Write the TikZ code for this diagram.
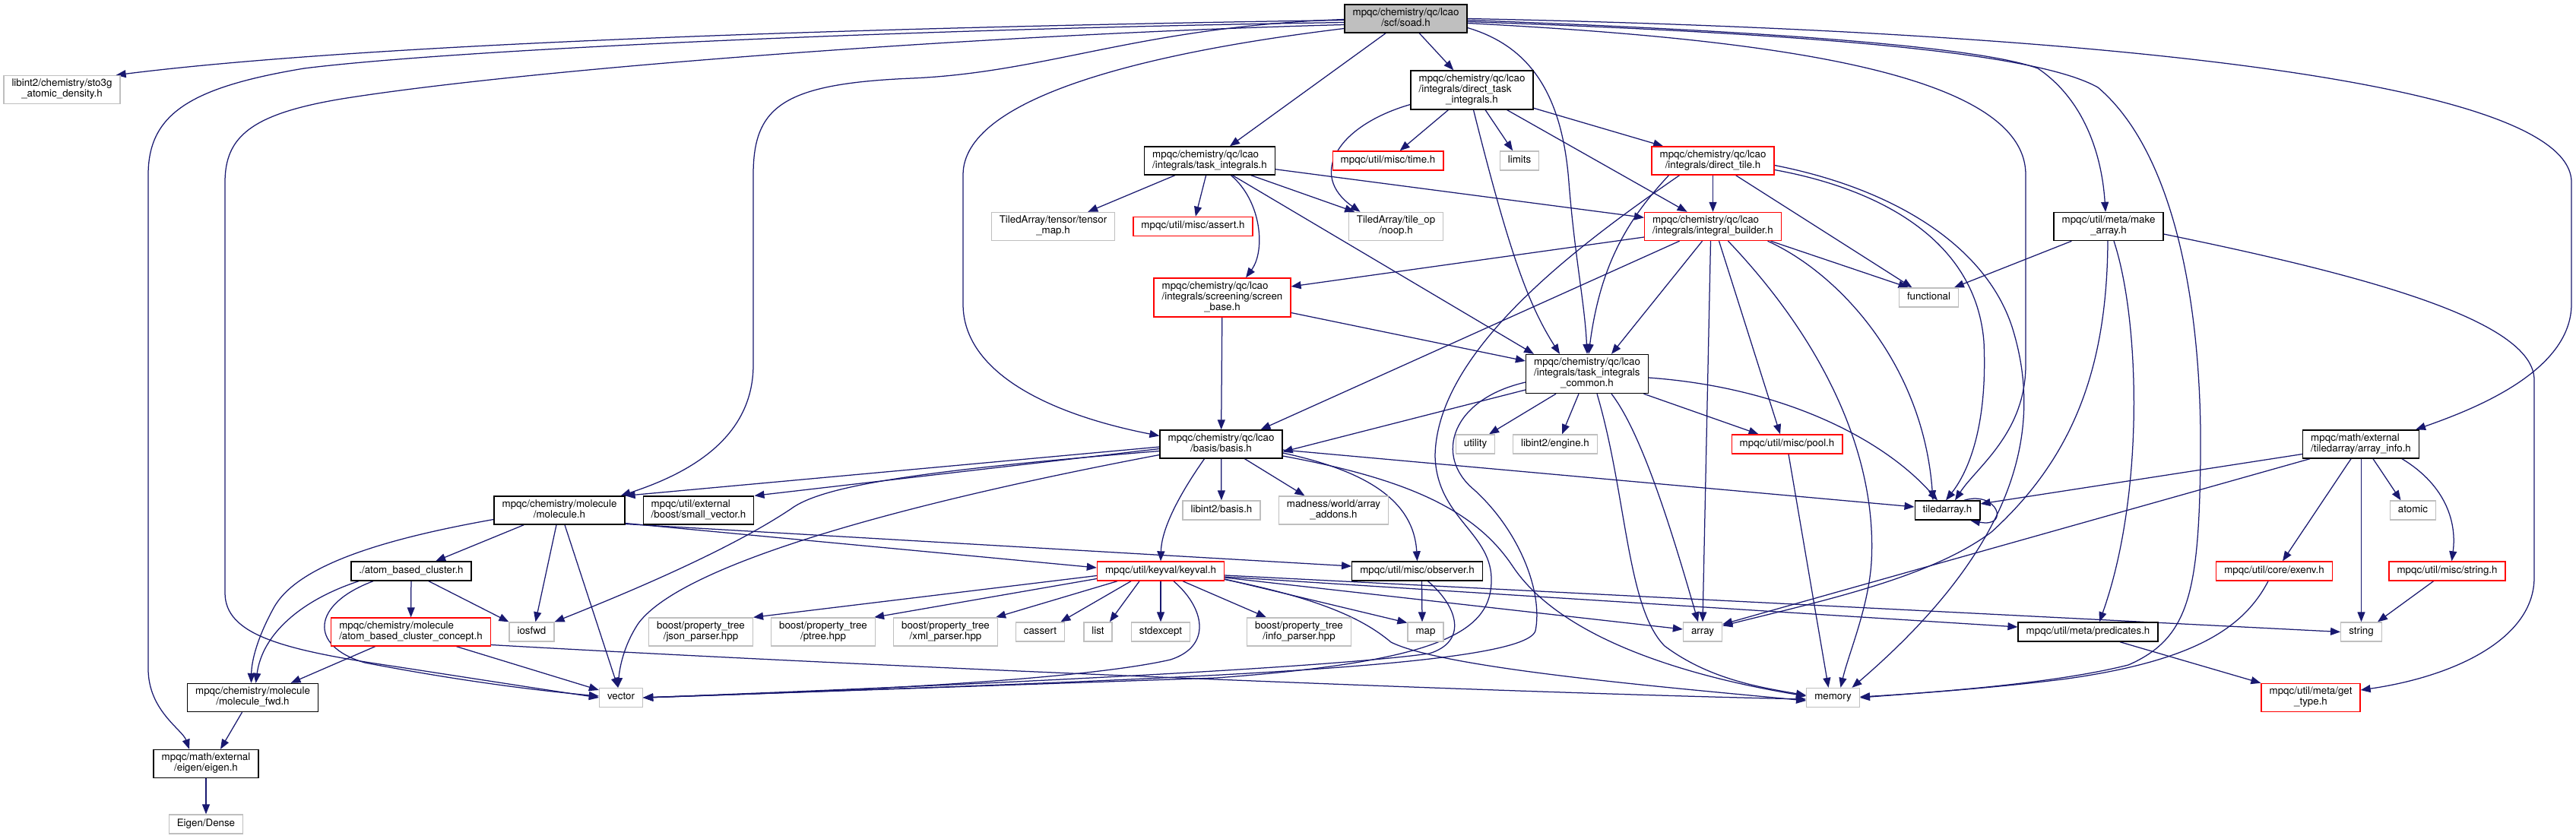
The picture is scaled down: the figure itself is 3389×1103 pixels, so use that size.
\documentclass[tikz,border=0pt]{standalone}
\usepackage{fontspec}
\setmainfont{TeX Gyre Heros}
\usetikzlibrary{arrows.meta,backgrounds}
\definecolor{edgec}{HTML}{191970}
\definecolor{grayb}{HTML}{BFBFBF}
\definecolor{redb}{HTML}{FF0000}
\newcommand{\onel}[1]{\begin{tabular}{@{}c@{}}#1\end{tabular}}
\newcommand{\twol}[2]{\begin{tabular}{@{}l@{}}#1\\\multicolumn{1}{@{}c@{}}{#2}\end{tabular}}
\newcommand{\threel}[3]{\begin{tabular}{@{}l@{}}#1\\#2\\\multicolumn{1}{@{}c@{}}{#3}\end{tabular}}
\begin{document}
\begin{tikzpicture}[x=1pt,y=-1pt,
 nbox/.style={draw, line width=1.4pt, inner xsep=10.5pt, inner ysep=0pt, minimum height=25pt, font=\fontsize{13.33}{14}\selectfont, fill=white},
 nblk/.style={nbox, draw=black},
 ngry/.style={nbox, draw=grayb},
 nred/.style={nbox, draw=redb},
 nroot/.style={nbox, draw=black, fill=grayb},
 hii/.style={minimum height=37pt},
 hiii/.style={minimum height=51pt},
 edg/.style={draw=edgec, line width=1.25pt, -{Triangle[length=13pt,width=10pt]}}]
\useasboundingbox (0,0) rectangle (3389,1103);
% nodes
\node[nroot,hii] (soad) at (1849.5,24.5) {\twol{mpqc/chemistry/qc/lcao}{/scf/soad.h}};
\node[ngry,hii] (sto) at (81.5,118) {\twol{libint2/chemistry/sto3g}{\_atomic\_density.h}};
\node[nblk,hiii] (dti) at (1936.5,118.5) {\threel{mpqc/chemistry/qc/lcao}{/integrals/direct\_task}{\_integrals.h}};
\node[nblk,hii] (ti) at (1591.5,211.5) {\twol{mpqc/chemistry/qc/lcao}{/integrals/task\_integrals.h}};
\node[nred] (time) at (1826,211.5) {\onel{mpqc/util/misc/time.h}};
\node[ngry] (limits) at (1999,211.5) {\onel{limits}};
\node[nred,hii] (dtile) at (2253.5,211.5) {\twol{mpqc/chemistry/qc/lcao}{/integrals/direct\_tile.h}};
\node[ngry,hii] (tmap) at (1385.5,298) {\twol{TiledArray/tensor/tensor}{\_map.h}};
\node[nred] (assert) at (1569.5,298) {\onel{mpqc/util/misc/assert.h}};
\node[ngry,hii] (noop) at (1836.5,298) {\twol{TiledArray/tile\_op}{/noop.h}};
\node[nred,hii] (ib) at (2253.5,298) {\twol{mpqc/chemistry/qc/lcao}{/integrals/integral\_builder.h}};
\node[nblk,hii] (mka) at (2774,298) {\twol{mpqc/util/meta/make}{\_array.h}};
\node[nred,hiii] (sb) at (1608,391.5) {\threel{mpqc/chemistry/qc/lcao}{/integrals/screening/screen}{\_base.h}};
\node[ngry] (func) at (2537.5,391.5) {\onel{functional}};
\node[nblk,hiii] (tic) at (2088,492) {\threel{mpqc/chemistry/qc/lcao}{/integrals/task\_integrals}{\_common.h}};
\node[nblk,hii] (basis) at (1606.5,584.5) {\twol{mpqc/chemistry/qc/lcao}{/basis/basis.h}};
\node[ngry] (util) at (1941,584.5) {\onel{utility}};
\node[ngry] (engine) at (2046,584.5) {\onel{libint2/engine.h}};
\node[nred] (pool) at (2351,584.5) {\onel{mpqc/util/misc/pool.h}};
\node[nblk,hii] (ainfo) at (3106,584.5) {\twol{mpqc/math/external}{/tiledarray/array\_info.h}};
\node[nblk,hii] (mol) at (736,671.5) {\twol{mpqc/chemistry/molecule}{/molecule.h}};
\node[nblk,hii] (svec) at (919,671.5) {\twol{mpqc/util/external}{/boost/small\_vector.h}};
\node[ngry] (lbasis) at (1607,671.5) {\onel{libint2/basis.h}};
\node[ngry,hii] (mad) at (1754.5,671.5) {\twol{madness/world/array}{\_addons.h}};
\node[nblk] (ta) at (2562,671.5) {\onel{tiledarray.h}};
\node[ngry] (atomic) at (3174.5,671.5) {\onel{atomic}};
\node[nblk] (abc) at (541,751.5) {\onel{./atom\_based\_cluster.h}};
\node[nred] (kv) at (1527,751.5) {\onel{mpqc/util/keyval/keyval.h}};
\node[nblk] (obs) at (1864.5,751.5) {\onel{mpqc/util/misc/observer.h}};
\node[nred] (exenv) at (2992,751.5) {\onel{mpqc/util/core/exenv.h}};
\node[nred] (mstr) at (3219.5,751.5) {\onel{mpqc/util/misc/string.h}};
\node[nred,hii] (abcc) at (540.5,831.5) {\twol{mpqc/chemistry/molecule}{/atom\_based\_cluster\_concept.h}};
\node[ngry] (iosfwd) at (699.5,831.5) {\onel{iosfwd}};
\node[ngry,hii] (json) at (922,831.5) {\twol{boost/property\_tree}{/json\_parser.hpp}};
\node[ngry,hii] (ptree) at (1083,831.5) {\twol{boost/property\_tree}{/ptree.hpp}};
\node[ngry,hii] (xml) at (1244,831.5) {\twol{boost/property\_tree}{/xml\_parser.hpp}};
\node[ngry] (cassert) at (1368.5,831.5) {\onel{cassert}};
\node[ngry] (list) at (1444.5,831.5) {\onel{list}};
\node[ngry] (stdexc) at (1527,831.5) {\onel{stdexcept}};
\node[ngry,hii] (info) at (1709,831.5) {\twol{boost/property\_tree}{/info\_parser.hpp}};
\node[ngry] (map) at (1875.5,831.5) {\onel{map}};
\node[ngry] (array) at (2240,831.5) {\onel{array}};
\node[nblk] (pred) at (2747,831.5) {\onel{mpqc/util/meta/predicates.h}};
\node[ngry] (string) at (3106.5,831.5) {\onel{string}};
\node[nblk,hii] (mfwd) at (332.5,918) {\twol{mpqc/chemistry/molecule}{/molecule\_fwd.h}};
\node[ngry] (vector) at (817,918) {\onel{vector}};
\node[ngry] (memory) at (2411.5,918) {\onel{memory}};
\node[nred,hii] (gtype) at (3040,918) {\twol{mpqc/util/meta/get}{\_type.h}};
\node[nblk,hii] (eigen) at (271,1005) {\twol{mpqc/math/external}{/eigen/eigen.h}};
\node[ngry] (dense) at (271,1084.5) {\onel{Eigen/Dense}};
\begin{pgfonlayer}{background}
\fill[white] (0,0) rectangle (3389,1103);
% soad
\draw[edg] ([yshift=-2pt]soad.west) .. controls (1200,35) and (500,55) .. ([xshift=-6pt]sto.north east);
\draw[edg] ([yshift=-5pt]soad.west) .. controls (1200,38) and (600,65) .. (400,90) .. controls (250,115) and (195,150) .. (195,230) -- (195,880) .. controls (195,935) and (240,960) .. ([xshift=-22pt]eigen.north);
\draw[edg] ([yshift=-8pt]soad.west) .. controls (1300,45) and (700,90) .. (450,130) .. controls (330,150) and (296,180) .. (296,240) -- (296,780) .. controls (296,835) and (370,855) .. (520,877) .. controls (650,897) and (720,908) .. (vector.west);
\draw[edg] ([yshift=-1pt]soad.west) .. controls (1500,35) and (1380,95) .. (1200,103) .. controls (1030,110) and (991,140) .. (991,230) -- (991,480) .. controls (991,580) and (900,625) .. ([xshift=-6pt]mol.north east);
\draw[edg] ([yshift=-13pt]soad.west) .. controls (1500,70) and (1267,130) .. (1267,230) -- (1267,400) .. controls (1267,490) and (1380,545) .. ([yshift=11pt]basis.west);
\draw[edg] (soad) -- (ti);
\draw[edg] (soad) -- (dti);
\draw[edg] ([yshift=-12pt]soad.east) .. controls (2010,60) and (2055,120) .. (2064,240) .. controls (2072,340) and (2085,400) .. (tic.north);
\draw[edg] ([yshift=-6pt]soad.east) .. controls (2300,50) and (2665,90) .. (2665,230) -- (2665,480) .. controls (2665,570) and (2600,615) .. ([xshift=10pt]ta.north);
\draw[edg] ([yshift=-2pt]soad.east) .. controls (2300,40) and (2600,60) .. (2681,90) .. controls (2740,130) and (2765,200) .. ([xshift=-4pt]mka.north);
\draw[edg] ([yshift=-4pt]soad.east) .. controls (2400,45) and (2680,70) .. (2760,115) .. controls (2860,200) and (2897,400) .. (2895,600) .. controls (2893,780) and (2880,840) .. (2800,875) .. controls (2700,900) and (2550,910) .. (memory.east);
\draw[edg] (soad.east) .. controls (2700,40) and (3383,100) .. (3383,240) -- (3383,400) .. controls (3383,490) and (3250,540) .. ([xshift=-5pt]ainfo.north east);
% direct_task_integrals
\draw[edg] ([yshift=-19pt]dti.west) .. controls (1760,165) and (1720,230) .. ([xshift=-47pt]noop.north);
\draw[edg] (dti) -- (time);
\draw[edg] (dti) -- (limits);
\draw[edg] (dti) -- (ib);
\draw[edg] (dti) -- (dtile);
\draw[edg] ([xshift=2pt]dti.south) .. controls (1985,330) and (2010,400) .. ([xshift=-36pt]tic.north);
% task_integrals
\draw[edg] (ti) -- (tmap);
\draw[edg] (ti) -- (assert);
\draw[edg] ([xshift=28pt]ti.south) .. controls (1660,265) and (1665,330) .. ([xshift=31pt]sb.north);
\draw[edg] (ti) -- (noop);
\draw[edg] (ti) -- (ib);
\draw[edg] ([xshift=30pt]ti.south) -- ([xshift=-70pt]tic.north);
% direct_tile
\draw[edg] (dtile) -- (ib);
\draw[edg] (dtile) -- ([xshift=-22pt]func.north);
\draw[edg] ([yshift=-12pt]dtile.east) .. controls (2480,250) and (2600,320) .. (2610,450) .. controls (2615,560) and (2590,620) .. ([xshift=-2pt]ta.north);
\draw[edg] ([yshift=-6pt]dtile.east) .. controls (2500,250) and (2620,330) .. (2650,440) .. controls (2690,580) and (2640,730) .. ([xshift=25pt]memory.north);
\draw[edg] ([xshift=-58pt]dtile.south) .. controls (2140,290) and (2105,350) .. ([xshift=2pt]tic.north);
\draw[edg] ([xshift=-44pt]dtile.south) .. controls (2080,320) and (1890,460) .. (1888,600) .. controls (1890,680) and (1960,700) .. (1962,760) .. controls (1964,830) and (1900,870) .. (1600,892) -- (vector.east);
% integral_builder
\draw[edg] ([yshift=-14pt]ib.west) -- ([yshift=14.5pt]sb.east);
\draw[edg] ([xshift=-44pt]ib.south) -- ([xshift=52pt]basis.north);
\draw[edg] ([xshift=-14pt]ib.south) -- ([xshift=32pt]tic.north);
\draw[edg] ([xshift=-3pt]ib.south) -- (array.north);
\draw[edg] ([xshift=8pt]ib.south) -- ([xshift=-9pt]pool.north);
\draw[edg] ([xshift=20pt]ib.south) .. controls (2400,450) and (2470,600) .. (2462,740) .. controls (2458,800) and (2432,860) .. ([xshift=10pt]memory.north);
\draw[edg] ([xshift=72pt]ib.south) .. controls (2420,360) and (2530,480) .. ([xshift=-19pt]ta.north);
\draw[edg] ([xshift=76pt]ib.south) -- ([xshift=-27pt]func.north);
% make_array
\draw[edg] (mka) -- (func);
\draw[edg] ([xshift=-1pt]mka.south) .. controls (2772,480) and (2730,600) .. (2620,700) .. controls (2540,760) and (2400,790) .. ([yshift=8pt]array.east);
\draw[edg] ([xshift=7pt]mka.south) .. controls (2815,420) and (2822,650) .. ([xshift=15pt]pred.north);
\draw[edg] ([yshift=-10pt]mka.east) .. controls (3100,360) and (3334,420) .. (3334,500) -- (3334,760) .. controls (3334,840) and (3230,890) .. ([yshift=10pt]gtype.east);
% screen_base
\draw[edg] (sb) -- (basis);
\draw[edg] ([yshift=-20pt]sb.east) -- ([yshift=17pt]tic.west);
% task_integrals_common
\draw[edg] ([yshift=-21pt]tic.west) -- ([yshift=-10pt]basis.east);
\draw[edg] ([xshift=-41pt]tic.south) -- ([xshift=18pt]util.north);
\draw[edg] ([xshift=-11pt]tic.south) -- ([xshift=9pt]engine.north);
\draw[edg] ([xshift=13pt]tic.south) .. controls (2140,650) and (2140,800) .. (2190,850) .. controls (2250,895) and (2320,905) .. ([yshift=3pt]memory.west);
\draw[edg] ([xshift=32pt]tic.south) .. controls (2160,570) and (2200,700) .. ([xshift=-6pt]array.north);
\draw[edg] (tic) -- (pool);
\draw[edg] ([yshift=-5pt]tic.east) .. controls (2350,510) and (2480,580) .. ([xshift=-13pt]ta.north);
\draw[edg] ([yshift=-11pt]tic.west) .. controls (1910,525) and (1885,600) .. (1940,645) .. controls (2000,700) and (2030,780) .. (2020,830) .. controls (2005,880) and (1500,895) .. (vector.east);
% pool
\draw[edg] ([xshift=2pt]pool.south) -- ([xshift=-6pt]memory.north);
% basis
\draw[edg] ([yshift=-3.5pt]basis.west) -- (mol.north east);
\draw[edg] ([yshift=-6pt]basis.west) -- (svec.north east);
\draw[edg] ([yshift=-9pt]basis.west) .. controls (1200,620) and (1080,640) .. (1040,670) .. controls (950,730) and (800,790) .. (iosfwd.north east);
\draw[edg] ([yshift=-14pt]basis.west) .. controls (1200,660) and (900,740) .. (840,820) .. controls (820,850) and (815,880) .. ([xshift=-4pt]vector.north);
\draw[edg] ([xshift=-22pt]basis.south) .. controls (1545,660) and (1528,700) .. (kv.north);
\draw[edg] (basis) -- (lbasis);
\draw[edg] ([xshift=31pt]basis.south) -- ([xshift=-38pt]mad.north);
\draw[edg] ([yshift=-7.5pt]basis.east) -- ([yshift=4.5pt]ta.west);
\draw[edg] ([yshift=-11.5pt]basis.east) .. controls (1800,620) and (1860,660) .. (obs.north);
\draw[edg] ([yshift=-15.5pt]basis.east) .. controls (1850,630) and (1940,670) .. (1990,745) .. controls (2060,850) and (2250,895) .. ([yshift=2pt]memory.west);
% molecule
\draw[edg] ([yshift=-12pt]mol.west) .. controls (500,710) and (390,745) .. (360,800) .. controls (338,840) and (331,870) .. ([xshift=-2pt]mfwd.north);
\draw[edg] (mol) -- (abc);
\draw[edg] ([xshift=-4pt]mol.south) -- ([xshift=5pt]iosfwd.north);
\draw[edg] ([xshift=7pt]mol.south) -- ([xshift=-4pt]vector.north);
\draw[edg] ([yshift=-17pt]mol.east) -- ([yshift=4.5pt]kv.west);
\draw[edg] ([yshift=-18pt]mol.east) -- ([yshift=6.5pt]obs.west);
% atom_based_cluster
\draw[edg] ([xshift=-69pt]abc.south) .. controls (395,790) and (345,835) .. ([xshift=4pt]mfwd.north);
\draw[edg] (abc) -- (abcc);
\draw[edg] ([xshift=23pt]abc.south) -- (iosfwd.north west);
\draw[edg] ([xshift=-50pt]abc.south) .. controls (410,795) and (405,850) .. (480,872) .. controls (600,895) and (700,908) .. ([yshift=2pt]vector.west);
% concept
\draw[edg] ([xshift=-47pt]abcc.south) -- ([xshift=50pt]mfwd.north);
\draw[edg] ([xshift=60pt]abcc.south) -- ([yshift=10pt]vector.west);
\draw[edg] ([yshift=-17pt]abcc.east) .. controls (1200,880) and (2000,912) .. ([yshift=-2pt]memory.west);
% molecule_fwd, eigen
\draw[edg] ([xshift=-14pt]mfwd.south) -- ([xshift=19pt]eigen.north);
\draw[edg] (eigen) -- (dense);
% keyval
\draw[edg] ([yshift=-6pt]kv.west) -- (json.north east);
\draw[edg] ([yshift=-10pt]kv.west) -- ([xshift=-2pt]ptree.north east);
\draw[edg] ([xshift=-57pt]kv.south) -- ([xshift=-3pt]xml.north east);
\draw[edg] ([xshift=-39pt]kv.south) -- ([xshift=-6pt]cassert.north east);
\draw[edg] ([xshift=-28pt]kv.south) -- ([xshift=-4pt]list.north east);
\draw[edg] (kv) -- (stdexc);
\draw[edg] ([xshift=29pt]kv.south) -- ([xshift=-43pt]info.north);
\draw[edg] ([xshift=17pt]kv.south) .. controls (1585,800) and (1595,850) .. (1540,868) .. controls (1400,900) and (1000,913) .. (vector.east);
\draw[edg] ([yshift=-10.5pt]kv.east) -- ([yshift=12pt]map.west);
\draw[edg] ([yshift=-8.5pt]kv.east) -- ([yshift=3.5pt]array.west);
\draw[edg] ([yshift=-11pt]kv.east) .. controls (1750,790) and (1800,820) .. (1830,845) .. controls (1900,880) and (2200,905) .. ([yshift=-4pt]memory.west);
\draw[edg] ([yshift=-5.5pt]kv.east) -- (string.west);
\draw[edg] ([yshift=-7.5pt]kv.east) -- ([yshift=6.5pt]pred.west);
% observer
\draw[edg] ([xshift=6pt]obs.south) -- ([xshift=-4.5pt]map.north);
\draw[edg] ([xshift=14pt]obs.south) .. controls (1920,800) and (1930,845) .. (1880,860) .. controls (1700,885) and (1000,912) .. (vector.east);
% array_info
\draw[edg] ([yshift=-13pt]ainfo.west) -- ([yshift=8.5pt]ta.east);
\draw[edg] ([xshift=-67pt]ainfo.south) -- ([yshift=10pt]array.east);
\draw[edg] ([xshift=-13pt]ainfo.south) -- ([xshift=11pt]exenv.north);
\draw[edg] ([xshift=0.5pt]ainfo.south) -- (string.north);
\draw[edg] ([xshift=16pt]ainfo.south) -- ([xshift=-16pt]atomic.north);
\draw[edg] ([xshift=54pt]ainfo.south) .. controls (3220,640) and (3232,690) .. ([xshift=6pt]mstr.north);
% others
\draw[edg] ([xshift=-18pt]mstr.south) -- ([xshift=-6pt]string.north east);
\draw[edg] ([xshift=-8pt]exenv.south) .. controls (2950,830) and (2880,870) .. (2720,893) .. controls (2620,906) and (2500,914) .. ([yshift=1pt]memory.east);
\draw[edg] ([xshift=42pt]pred.south) -- (gtype.north west);
\draw[edg] ([xshift=22pt]ta.north) .. controls (2628,645) and (2645,695) .. ([xshift=30pt]ta.south);
\end{pgfonlayer}
\end{tikzpicture}
\end{document}
